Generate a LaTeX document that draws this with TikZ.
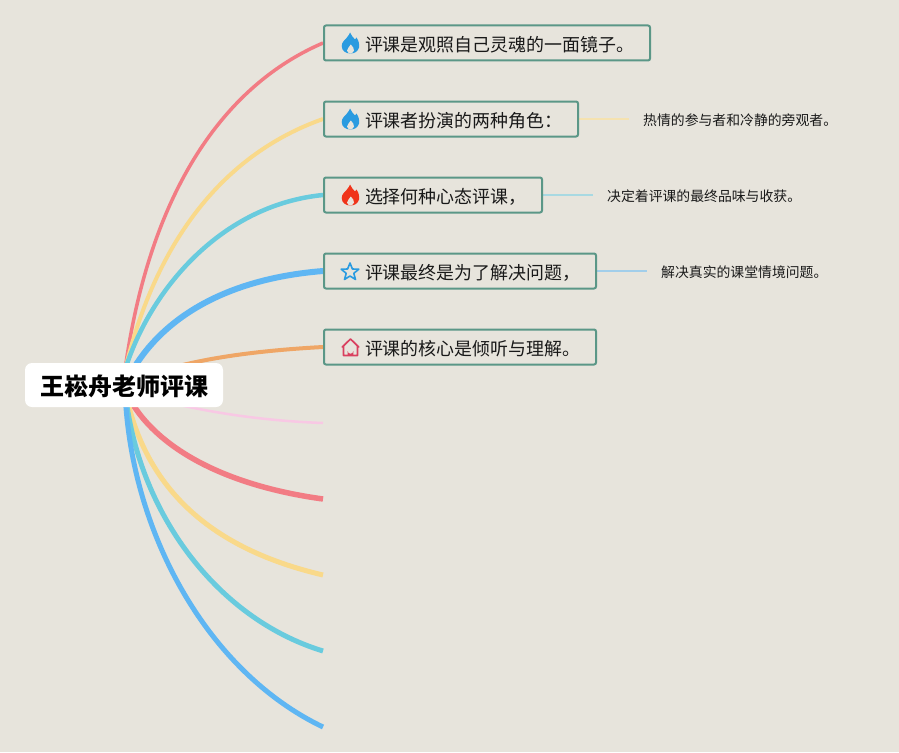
\documentclass[tikz,border=0pt]{standalone}
\usepackage{fontspec}
\setmainfont{Noto Sans CJK SC}
\usetikzlibrary{backgrounds}
\definecolor{bgc}{HTML}{E7E4DC}
\definecolor{boxc}{HTML}{5B9787}
\definecolor{cred}{HTML}{F27C84}
\definecolor{cyel}{HTML}{F9D98A}
\definecolor{cteal}{HTML}{69CBDE}
\definecolor{cblue}{HTML}{5FB6F3}
\definecolor{cora}{HTML}{EFA666}
\definecolor{cpink}{HTML}{F8C8E4}
\definecolor{syel}{HTML}{F5E2B0}
\definecolor{steal}{HTML}{A8D9E2}
\definecolor{sblue}{HTML}{A2CEEA}
\definecolor{fblue}{HTML}{2A9BE0}
\definecolor{fred}{HTML}{F0341A}
\definecolor{hred}{HTML}{D9405F}
\tikzset{
  x=1pt,y=-1pt,
  box/.style={draw=boxc,line width=2pt,rounded corners=2pt,inner sep=0pt,minimum height=35pt,anchor=west,text height=16.6pt,text depth=0pt,font=\fontsize{17.95}{20}\selectfont,text=black!90},
  sidetext/.style={anchor=west,inner sep=0pt,font=\fontsize{13.85}{16}\selectfont,text=black!90},
  rootbox/.style={fill=white,rounded corners=7pt,inner sep=0pt,minimum width=198pt,minimum height=44pt,text height=20.8pt,text depth=0pt,font=\fontsize{24}{26}\selectfont\bfseries,text=black},
  flame/.pic={
    \fill[pic actions] (-0.5,-10.5) .. controls (0.5,-7) and (3,-6) .. (4.5,-3.5) -- (6,-5.5) .. controls (8.5,-2) and (9,2) .. (8.5,4.5) .. controls (7.5,8.5) and (4,10.5) .. (0,10.5) .. controls (-4.5,10.5) and (-8.8,8) .. (-8.8,3) .. controls (-8.8,-1) and (-5.5,-3) .. (-4,-5) .. controls (-2.5,-7) and (-1,-8.5) .. cycle;
    \fill[bgc] (0.3,1.5) .. controls (2,3.5) and (4,5.5) .. (3.5,7.5) .. controls (3,9) and (1.5,10.5) .. (0,10.5) .. controls (-1.5,10.5) and (-3.5,9) .. (-3.5,7.5) .. controls (-3.5,5.5) and (-1,4) .. cycle;
  },
  staricon/.pic={
    \draw[fblue,line width=1.6pt,line join=round] (0,-9) -- (2.4,-3) -- (8.8,-2.8) -- (3.8,1.3) -- (5.5,7.5) -- (0,4) -- (-5.5,7.5) -- (-3.8,1.3) -- (-8.8,-2.8) -- (-2.4,-3) -- cycle;
  },
  houseicon/.pic={
    \draw[hred,line width=1.7pt,line join=round,line cap=round] (-8.2,-0.5) -- (0,-8.5) -- (8.2,-0.5) (-7,-1.5) -- (-7,8) -- (7,8) -- (7,-1.5);
    \fill[hred] (-2.8,8) -- (-2.8,3.5) arc[start angle=180,end angle=0,radius=2.8] -- (2.8,8) -- cycle;
  },
  sideline/.style={line width=1.7pt,shorten >=14pt},
}
\newcommand\boxtxt[2]{\makebox[#1pt][l]{\hspace{41pt}#2}}
\begin{document}
\begin{tikzpicture}
\useasboundingbox (0,0) rectangle (899,752);
\node[rootbox] (root) at (124,385) {王崧舟老师评课};
\coordinate (hubup) at (125,370);
\coordinate (hub) at (125,385);
\coordinate (hublow) at (125,390);
\node[box] (b1) at (323,43) {\boxtxt{326}{评课是观照自己灵魂的一面镜子。}};
\node[box] (b2) at (323,119) {\boxtxt{254}{评课者扮演的两种角色：}};
\node[box] (b3) at (323,195) {\boxtxt{218}{选择何种心态评课，}};
\node[box] (b4) at (323,271) {\boxtxt{272}{评课最终是为了解决问题，}};
\node[box] (b5) at (323,347) {\boxtxt{272}{评课的核心是倾听与理解。}};
\node[sidetext] (s2) at (643,120) {热情的参与者和冷静的旁观者。};
\node[sidetext] (s3) at (607,196) {决定着评课的最终品味与收获。};
\node[sidetext] (s4) at (661,272) {解决真实的课堂情境问题。};
\coordinate (e6) at (323,423);
\coordinate (e7) at (323,499);
\coordinate (e8) at (323,575);
\coordinate (e9) at (323,651);
\coordinate (e10) at (323,727);
\pic[fill=fblue] at (350.5,43) {flame};
\pic[fill=fblue] at (350.5,119) {flame};
\pic[fill=fred] at (350.5,195) {flame};
\pic at (350,272) {staricon};
\pic at (350.5,347.5) {houseicon};
\begin{pgfonlayer}{background}
\fill[bgc] (0,0) rectangle (899,752);
\draw[cred,line width=3.5pt] (hubup) .. controls (150,190) and (225,85) .. (b1.west);
\draw[cyel,line width=4pt] (hubup) .. controls (150,265) and (207,160) .. (b2.west);
\draw[cteal,line width=4.5pt] (hubup) .. controls (150,290) and (221,205) .. (b3.west);
\draw[cblue,line width=6pt] (hub) .. controls (145,340) and (199,281) .. (b4.west);
\draw[cora,line width=4pt] (hub) .. controls (165,365) and (230,352) .. (b5.west);
\draw[cpink,line width=2.5pt] (hublow) .. controls (170,405) and (240,420) .. (e6);
\draw[cred,line width=5.5pt] (hublow) .. controls (150,445) and (221,485) .. (e7);
\draw[cyel,line width=5pt] (hublow) .. controls (145,490) and (212,549) .. (e8);
\draw[cteal,line width=5pt] (hublow) .. controls (137,510) and (215,618) .. (e9);
\draw[cblue,line width=5pt] (hublow) .. controls (130,530) and (206,671) .. (e10);
\draw[sideline,syel] (b2.east) -- (b2.east -| s2.west);
\draw[sideline,steal] (b3.east) -- (b3.east -| s3.west);
\draw[sideline,sblue] (b4.east) -- (b4.east -| s4.west);
\end{pgfonlayer}
\end{tikzpicture}
\end{document}
